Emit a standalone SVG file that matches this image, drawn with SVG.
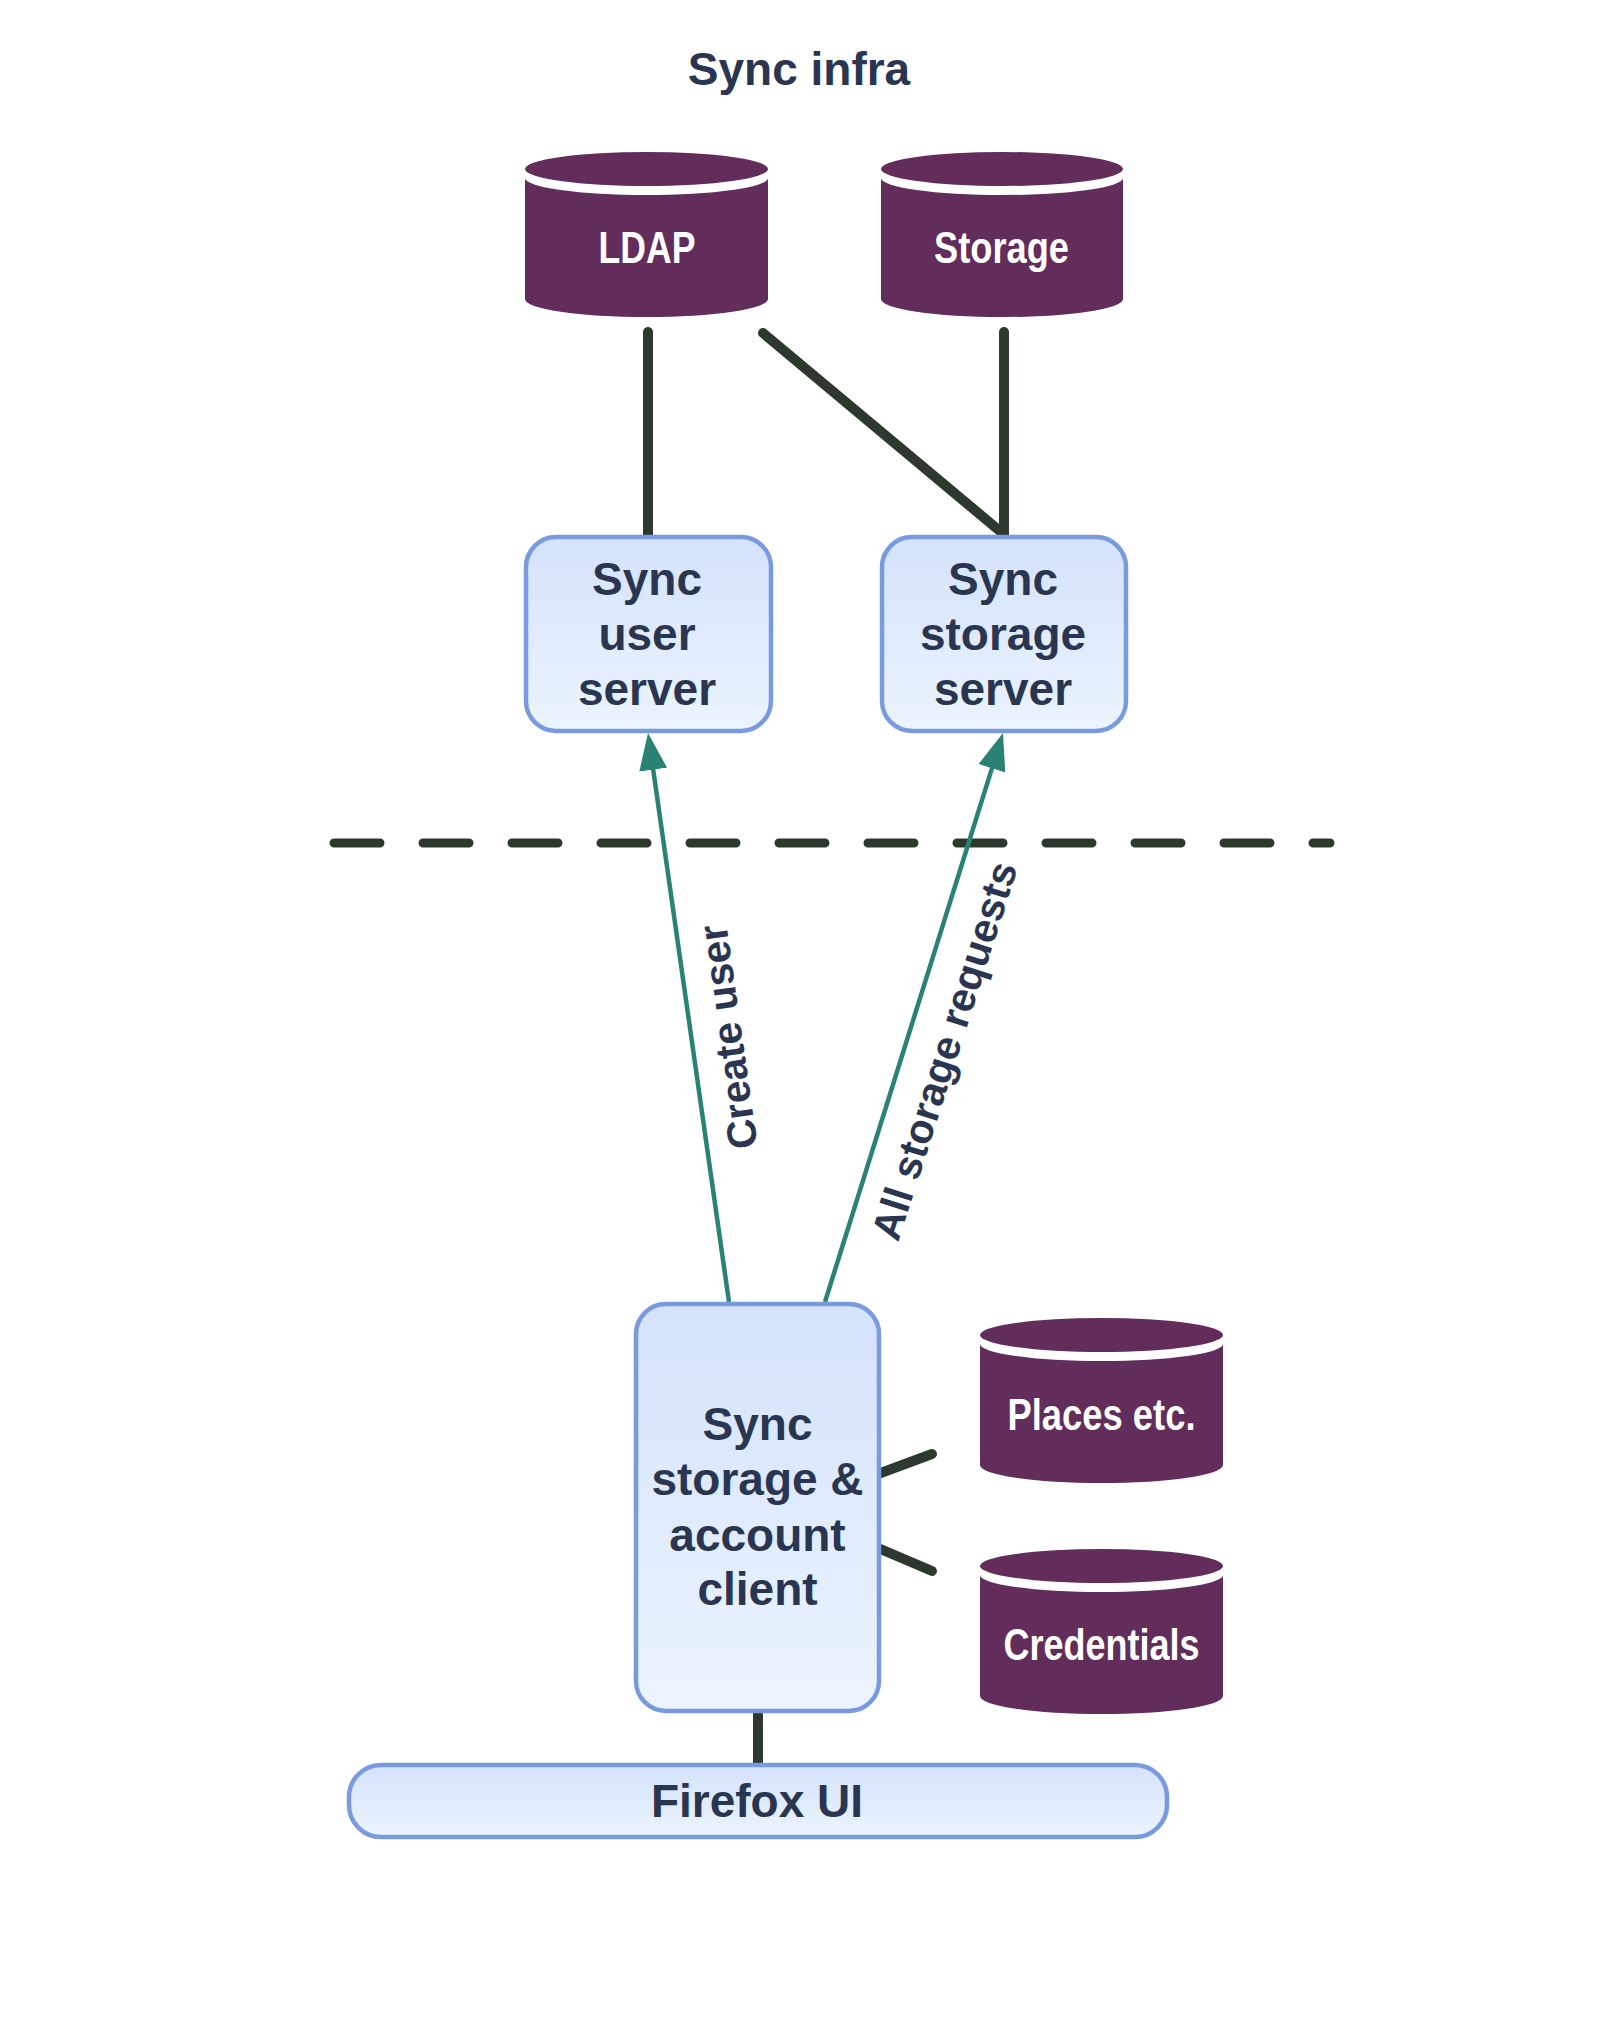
<svg xmlns="http://www.w3.org/2000/svg" width="1599" height="2036" viewBox="0 0 1599 2036">
<style>
.bg{fill:#ffffff}
.title{font-family:"Liberation Sans",Arial,sans-serif;font-weight:bold;font-size:46px;fill:#2a3650;text-anchor:middle}
.box{fill:url(#boxGrad);stroke:#7a9ade;stroke-width:4.5}
.btxt{font-family:"Liberation Sans",Arial,sans-serif;font-weight:bold;font-size:46px;fill:#2a3650;text-anchor:middle}
.cyl{fill:#622d5a}
.ctxt{font-family:"Liberation Sans Narrow","Liberation Sans",Arial,sans-serif;font-weight:bold;font-size:45px;fill:#ffffff;text-anchor:middle}
.link{stroke:#2e392d;stroke-width:10;stroke-linecap:round;fill:none}
.dash{stroke:#2e392d;stroke-width:9;stroke-linecap:round;stroke-dasharray:46 43;fill:none}
.flow{stroke:#2a8272;stroke-width:4.5;fill:none;marker-end:url(#arrow)}
.ltxt{font-family:"Liberation Sans",Arial,sans-serif;font-weight:bold;font-size:41px;fill:#2a3650;text-anchor:middle}
</style>
<defs>
<linearGradient id="boxGrad" x1="0" y1="0" x2="0" y2="1">
<stop offset="0" stop-color="#d4e2fb"/>
<stop offset="1" stop-color="#ebf4fe"/>
</linearGradient>
<marker id="arrow" markerUnits="userSpaceOnUse" markerWidth="40" markerHeight="30" refX="17" refY="14" orient="auto">
<path d="M0,0 L37,14 L0,28 Z" fill="#2a8272"/>
</marker>
</defs>
<rect class="bg" x="0" y="0" width="1599" height="2036"/>
<text class="title" x="799" y="85">Sync infra</text>

<g id="connectors">
<line class="link" x1="648" y1="332" x2="648" y2="535"/>
<line class="link" x1="763" y1="333" x2="1001" y2="532"/>
<line class="link" x1="1004" y1="332" x2="1004" y2="535"/>
<line class="link" x1="878" y1="1474" x2="932" y2="1454"/>
<line class="link" x1="878" y1="1548" x2="932" y2="1571"/>
<line class="link" x1="758" y1="1710" x2="758" y2="1765"/>
<line class="dash" x1="334" y1="843" x2="1330" y2="843"/>
<line class="flow" x1="729" y1="1302" x2="650.8" y2="752.8"/>
<line class="flow" x1="825" y1="1302" x2="997" y2="752.1"/>
<text class="ltxt" transform="translate(742,1035) rotate(-98)">Create user</text>
<text class="ltxt" transform="translate(958,1055) rotate(-72.3)">All storage requests</text>
</g>

<g id="ldap">
<path class="cyl" d="M525,178 A121.5,17 0 0 0 768,178 L768,299 A121.5,18 0 0 1 525,299 Z"/>
<ellipse class="cyl" cx="646.5" cy="169" rx="121.5" ry="17"/>
<text class="ctxt" x="647" y="263" textLength="97" lengthAdjust="spacingAndGlyphs">LDAP</text>
</g>
<g id="storage">
<path class="cyl" d="M881,178 A121,17 0 0 0 1123,178 L1123,299 A121,18 0 0 1 881,299 Z"/>
<ellipse class="cyl" cx="1002" cy="169" rx="121" ry="17"/>
<text class="ctxt" x="1001.5" y="263" textLength="135" lengthAdjust="spacingAndGlyphs">Storage</text>
</g>
<g id="user-server">
<rect class="box" x="526" y="537" width="245" height="194" rx="30" ry="30"/>
<text class="btxt" x="647" y="595">Sync</text>
<text class="btxt" x="647" y="650">user</text>
<text class="btxt" x="647" y="705">server</text>
</g>
<g id="storage-server">
<rect class="box" x="882" y="537" width="244" height="194" rx="30" ry="30"/>
<text class="btxt" x="1003" y="595">Sync</text>
<text class="btxt" x="1003" y="650">storage</text>
<text class="btxt" x="1003" y="705">server</text>
</g>
<g id="client">
<rect class="box" x="636" y="1304" width="243" height="407" rx="30" ry="30"/>
<text class="btxt" x="757.5" y="1440">Sync</text>
<text class="btxt" x="757.5" y="1495">storage &amp;</text>
<text class="btxt" x="757.5" y="1551">account</text>
<text class="btxt" x="757.5" y="1605">client</text>
</g>
<g id="places">
<path class="cyl" d="M980,1344 A121.5,17 0 0 0 1223,1344 L1223,1465 A121.5,18 0 0 1 980,1465 Z"/>
<ellipse class="cyl" cx="1101.5" cy="1335" rx="121.5" ry="17"/>
<text class="ctxt" x="1101.5" y="1430" textLength="188" lengthAdjust="spacingAndGlyphs">Places etc.</text>
</g>
<g id="credentials">
<path class="cyl" d="M980,1575 A121.5,17 0 0 0 1223,1575 L1223,1696 A121.5,18 0 0 1 980,1696 Z"/>
<ellipse class="cyl" cx="1101.5" cy="1566" rx="121.5" ry="17"/>
<text class="ctxt" x="1101.5" y="1660" textLength="196" lengthAdjust="spacingAndGlyphs">Credentials</text>
</g>
<g id="firefox-ui">
<rect class="box" x="349" y="1765" width="818" height="72" rx="32" ry="32"/>
<text class="btxt" x="757" y="1817">Firefox UI</text>
</g>
</svg>
